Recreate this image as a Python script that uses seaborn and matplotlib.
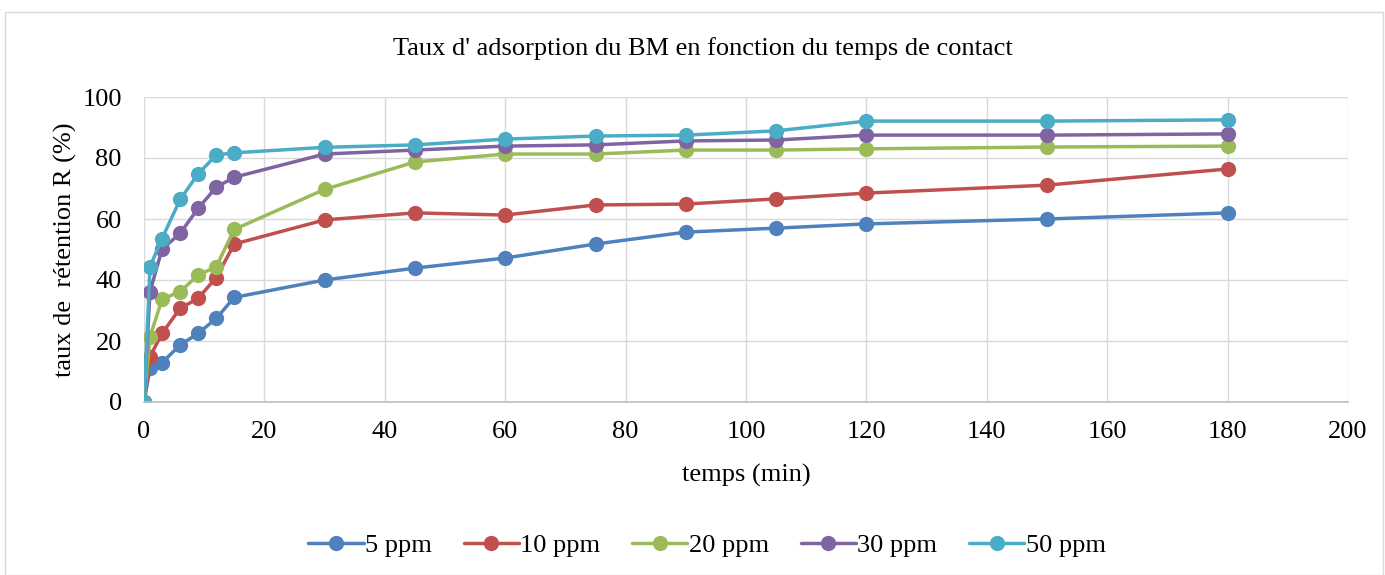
import matplotlib
matplotlib.use("Agg")
import matplotlib.pyplot as plt
import seaborn as sns
import pandas as pd
from matplotlib.patches import Rectangle

time_min = [0, 1, 3, 6, 9, 12, 15, 30, 45, 60, 75, 90, 105, 120, 150, 180]
r_5ppm = [0, 11.0, 12.9, 18.7, 22.5, 27.4, 34.3, 40.0, 43.9, 47.2, 51.8, 55.7, 57.0, 58.4, 60.0, 62.0]
r_10ppm = [0, 14.9, 22.5, 30.7, 34.0, 40.8, 51.8, 59.7, 62.0, 61.3, 64.6, 64.9, 66.6, 68.5, 71.1, 76.4]
r_20ppm = [0, 21.4, 33.7, 36.2, 41.6, 44.4, 56.6, 69.7, 78.7, 81.3, 81.3, 82.6, 82.6, 83.0, 83.6, 83.9]
r_30ppm = [0, 36.2, 50.1, 55.3, 63.5, 70.4, 73.7, 81.3, 82.6, 83.9, 84.3, 85.6, 85.9, 87.5, 87.5, 87.9]
r_50ppm = [0, 44.4, 53.6, 66.4, 74.8, 81.0, 81.7, 83.5, 84.3, 86.2, 87.2, 87.5, 88.9, 92.1, 92.1, 92.5]
series_names = ["5 ppm", "10 ppm", "20 ppm", "30 ppm", "50 ppm"]
x_ticks = [0, 20, 40, 60, 80, 100, 120, 140, 160, 180, 200]
y_ticks = [0, 20, 40, 60, 80, 100]

colors = ["#4F81BD", "#C0504D", "#9BBB59", "#8064A2", "#4BACC6"]

frames = []
for name, vals in zip(series_names, [r_5ppm, r_10ppm, r_20ppm, r_30ppm, r_50ppm]):
    frames.append(pd.DataFrame({"temps": time_min, "R": vals, "serie": name}))
df = pd.concat(frames, ignore_index=True)

sns.set_theme(style="white")
plt.rcParams["font.family"] = ["Liberation Serif", "DejaVu Serif"]
plt.rcParams["text.color"] = "black"
plt.rcParams["xtick.color"] = "black"
plt.rcParams["ytick.color"] = "black"
plt.rcParams["axes.labelcolor"] = "black"

FS = 19

fig = plt.figure(figsize=(13.85, 5.75), dpi=100)
ax = fig.add_axes([144/1385, 1 - 402/575, (1348 - 144)/1385, (402 - 97)/575])

# chart border
fig.patches.append(Rectangle((5/1385, 0.0), 1378/1385, 1 - 12/575, transform=fig.transFigure,
                             fill=False, edgecolor="#d9d9d9", linewidth=1.0))

sns.lineplot(data=df, x="temps", y="R", hue="serie", hue_order=series_names,
             palette=colors, marker="o", markersize=11, markeredgewidth=0,
             linewidth=2.5, ax=ax, legend=True, estimator=None, sort=False)

ax.set_xlim(0, 200)
ax.set_ylim(0, 100)
ax.set_xticks(x_ticks)
ax.set_yticks(y_ticks)
ax.tick_params(axis="both", labelsize=FS, length=0, labelcolor="black")
ax.tick_params(axis="x", pad=14)
ax.tick_params(axis="y", pad=16)
ax.grid(True, color="#d9d9d9", linewidth=1.0)
for s in ["top", "right", "left"]:
    ax.spines[s].set_visible(False)
ax.spines["bottom"].set_color("#bfbfbf")
ax.spines["bottom"].set_linewidth(1.2)
ax.set_axisbelow(True)

ax.set_xlabel("temps (min)", fontsize=FS, color="black")
ax.xaxis.set_label_coords(0.5, -(475 - 402) / (402 - 97), transform=ax.transAxes)
ax.xaxis.label.set_va("center")
ax.set_ylabel("taux de  rétention R (%)", fontsize=FS, color="black")
ax.yaxis.set_label_coords(-(144 - 65) / (1348 - 144), 0.5, transform=ax.transAxes)
ax.yaxis.label.set_va("center")
fig.text(703/1385, 1 - 49/575, "Taux d' adsorption du BM en fonction du temps de contact",
         ha="center", va="center", fontsize=FS, color="black")

handles, labels = ax.get_legend_handles_labels()
leg = ax.legend(handles, labels, loc="center", bbox_to_anchor=(707/1385, 1 - 545/575),
                bbox_transform=fig.transFigure, ncol=5, frameon=False, fontsize=FS,
                handlelength=2.1, columnspacing=1.2, handletextpad=0.05)
for t in leg.get_texts():
    t.set_color("black")

fig.savefig("out.png", dpi=100)
